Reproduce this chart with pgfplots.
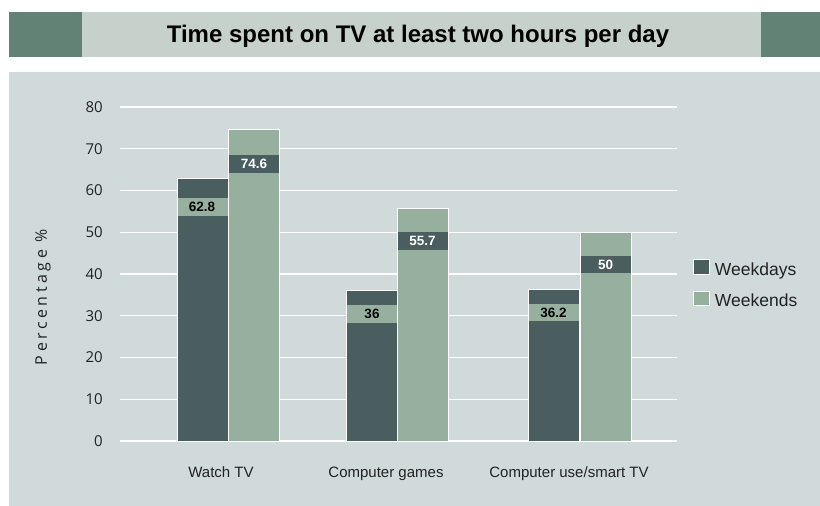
\documentclass[border=0pt]{standalone}
\usepackage{fontspec}
\setmainfont{Liberation Sans}
\newfontfamily\ticksfont{Open Sans}
\newfontfamily\ylabfont[LetterSpace=22]{Open Sans}
\usepackage{pgfplots}
\pgfplotsset{compat=1.18}

\definecolor{panel}{HTML}{D0DADB}
\definecolor{titleband}{HTML}{C7D1CC}
\definecolor{block}{HTML}{628276}
\definecolor{wkday}{HTML}{4A5E5F}
\definecolor{wkend}{HTML}{97AF9F}
\definecolor{txt}{HTML}{222222}

\begin{document}
\begin{tikzpicture}
% page frame, 1px = 1bp, y runs downwards
\useasboundingbox (0,0) rectangle (820bp,-506bp);
\fill[white] (0,0) rectangle (820bp,-506bp);
\fill[block] (9bp,-12bp) rectangle (82bp,-57bp);
\fill[titleband] (82bp,-12bp) rectangle (761bp,-57bp);
\fill[block] (761bp,-12bp) rectangle (820bp,-57bp);
\node[anchor=base, font=\bfseries\fontsize{24bp}{28bp}\selectfont, text=black]
  at (418bp,-42bp) {Time spent on TV at least two hours per day};
\fill[panel] (9bp,-72bp) rectangle (820bp,-506bp);

\node[rotate=90, font=\ylabfont\fontsize{16bp}{19bp}\selectfont, text=txt]
  at (43bp,-297bp) {Percentage \%};

\begin{axis}[
  at={(120bp,-441bp)}, anchor=south west,
  scale only axis,
  width=557bp, height=334bp,
  xmin=120, xmax=677,
  ymin=0, ymax=80,
  ytick={0,10,...,80},
  xtick={221,386,569},
  xticklabels={Watch TV, Computer games, Computer use/smart TV},
  axis line style={draw=none},
  major tick length=0pt,
  ymajorgrids,
  grid style={white, line width=1.3bp},
  /pgf/number format/assume math mode=true,
  yticklabel style={font=\ticksfont\fontsize{15bp}{17bp}\selectfont,
    text=txt, anchor=east, inner sep=0pt, xshift=-17bp},
  xticklabel style={font=\fontsize{15bp}{18bp}\selectfont,
    text=txt, anchor=base, inner sep=0pt, yshift=-36bp},
  legend style={draw=none, fill=none, inner sep=0pt,
    at={(1.0287,0.545)}, anchor=north west,
    font=\fontsize{17.5bp}{20bp}\selectfont, text=txt,
    row sep=12bp,
    nodes={inner xsep=5bp, inner ysep=0pt, text height=13bp, text depth=3.5bp}},
  legend cell align=left,
  legend image code/.code={%
    \draw[#1, draw=white, line width=0.8bp] (0bp,-3.5bp) rectangle (16bp,11bp);},
]
% bars
\addplot[ybar, bar width=51, bar shift=0pt, fill=wkday, draw=white, line width=1bp]
  coordinates {(202.5,62.8) (372,36) (553.5,36.2)};
\addlegendentry{Weekdays}
\addplot[ybar, bar width=51, bar shift=0pt, fill=wkend, draw=white, line width=1bp]
  coordinates {(254,74.6) (422.5,55.7) (605.5,50)};
\addlegendentry{Weekends}

% value bands inside the bars
\addplot[fill=wkend, draw=none, forget plot]
  coordinates {(177.5,53.9) (227.5,53.9) (227.5,58.2) (177.5,58.2)} -- cycle;
\addplot[fill=wkend, draw=none, forget plot]
  coordinates {(347,28.3) (397,28.3) (397,32.6) (347,32.6)} -- cycle;
\addplot[fill=wkend, draw=none, forget plot]
  coordinates {(528.5,28.7) (578.5,28.7) (578.5,32.8) (528.5,32.8)} -- cycle;
\addplot[fill=wkday, draw=none, forget plot]
  coordinates {(229,64.2) (279,64.2) (279,68.5) (229,68.5)} -- cycle;
\addplot[fill=wkday, draw=none, forget plot]
  coordinates {(397.5,45.7) (447.5,45.7) (447.5,50.1) (397.5,50.1)} -- cycle;
\addplot[fill=wkday, draw=none, forget plot]
  coordinates {(580.5,40.2) (630.5,40.2) (630.5,44.3) (580.5,44.3)} -- cycle;

% value labels
\addplot[draw=none, mark=none, forget plot, nodes near coords,
  point meta=explicit symbolic,
  nodes near coords style={anchor=center, inner sep=0pt, text=black,
    font=\bfseries\fontsize{13.5bp}{16bp}\selectfont}]
  coordinates {(202,56.05)[62.8] (372,30.45)[36] (553.5,30.75)[36.2]};
\addplot[draw=none, mark=none, forget plot, nodes near coords,
  point meta=explicit symbolic,
  nodes near coords style={anchor=center, inner sep=0pt, text=white,
    font=\bfseries\fontsize{13.5bp}{16bp}\selectfont}]
  coordinates {(254,66.35)[74.6] (422.5,47.9)[55.7] (605.5,42.25)[50]};
\end{axis}
\end{tikzpicture}
\end{document}
